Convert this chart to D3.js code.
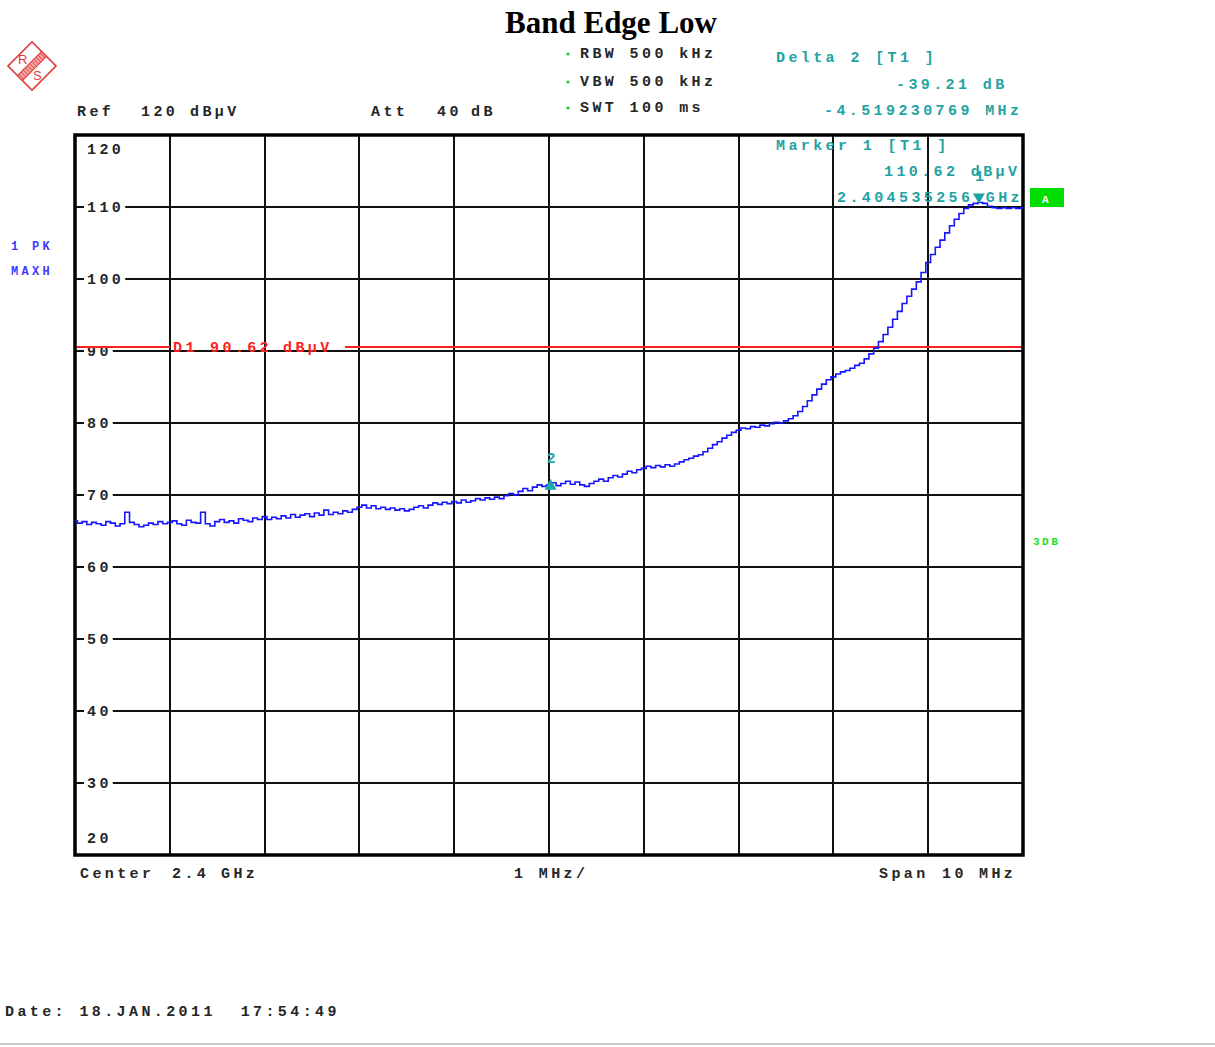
<!DOCTYPE html>
<html>
<head>
<meta charset="utf-8">
<script src="https://cdn.jsdelivr.net/npm/d3@7"></script>
<style>
  body { margin: 0; background: #fff; }
  text { white-space: pre; }
  .mono { font-family: "Liberation Mono", "DejaVu Sans Mono", monospace; font-weight: bold; font-size: 15px; letter-spacing: 3.4px; }
</style>
</head>
<body>
<div id="chart"></div>
<script>
// sweep settings
var centerFreq = 2.4e9, spanFreq = 10e6;
var refLevel = 120, bottomLevel = 20;
var yTicks = [110, 100, 90, 80, 70, 60, 50, 40, 30];
var displayLine = 90.62;

// trace (1 PK MAXH), dBuV, evenly spaced sweep points across the span
var trace = [
  66.4, 66.1, 66.3, 65.9, 66.2, 66.0, 65.8, 66.3, 66.1, 65.7, 66.0, 67.6, 66.2, 65.9, 65.6, 65.8, 66.1, 65.9, 66.3, 66.0,
  66.2, 66.4, 66.0, 65.8, 66.5, 66.2, 66.1, 67.6, 66.0, 65.7, 66.3, 66.6, 66.2, 66.4, 66.1, 66.7, 66.5, 66.3, 66.8, 66.6,
  67.0, 66.6, 66.9, 66.7, 67.1, 66.8, 67.3, 66.9, 67.2, 67.4, 67.0, 67.5, 67.2, 67.9, 67.3, 67.6, 67.4, 67.8, 67.6, 68.0,
  68.3, 68.6, 68.2, 68.5, 68.1, 68.3, 68.0, 68.2, 67.9, 68.1, 67.8, 68.0, 68.3, 68.5, 68.2, 68.6, 68.9, 68.7, 69.0, 68.8,
  69.1, 68.9, 69.3, 69.0, 69.2, 69.5, 69.3, 69.6, 69.4, 69.7, 69.5, 69.9, 70.2, 70.0, 70.5, 70.9, 70.6, 71.1, 71.4, 71.2,
  71.4, 71.7, 71.3, 71.6, 71.9, 71.5, 71.8, 71.4, 71.2, 71.6, 71.9, 72.2, 71.9, 72.4, 72.7, 72.5, 72.9, 73.3, 73.1, 73.5,
  73.7, 74.0, 73.8, 74.1, 73.9, 74.2, 74.0, 74.3, 74.6, 74.9, 75.1, 75.4, 75.6, 76.0, 76.5, 77.0, 77.4, 77.9, 78.3, 78.7,
  79.0, 79.3, 79.2, 79.5, 79.4, 79.7, 79.6, 79.9, 80.1, 80.0, 80.3, 80.6, 81.0, 81.6, 82.3, 83.1, 83.9, 84.7, 85.4, 86.0,
  86.4, 86.8, 87.1, 87.3, 87.6, 88.0, 88.3, 88.9, 89.6, 90.4, 91.3, 92.3, 93.3, 94.4, 95.5, 96.6, 97.6, 98.6, 99.6, 100.9,
  102.3, 103.4, 104.4, 105.4, 106.4, 107.4, 108.3, 109.1, 109.8, 110.3, 110.5, 110.62, 110.5, 110.1, 109.9, 109.8, 109.9, 109.8, 109.9, 109.8,
  109.9
];

// markers
var markers = [
  {name: "1", freq: 2.404535256e9, level: 110.62, dir: "down"},
  {name: "2", freq: 2.400016026e9, level: 71.41, dir: "up"}
];

var W = 1215, H = 1047;
var svg = d3.select("#chart").append("svg")
  .attr("width", W).attr("height", H);

var x = d3.scaleLinear()
  .domain([centerFreq - spanFreq / 2, centerFreq + spanFreq / 2])
  .range([75, 1023]);
var y = d3.scaleLinear()
  .domain([bottomLevel, refLevel])
  .range([855, 135]);

var dark = "#262626", teal = "#1fa3a3", blue = "#1515ff";

function txt(s, px, py, color, cls) {
  return svg.append("text").attr("class", cls || "mono")
    .attr("x", px).attr("y", py).attr("fill", color || dark).text(s);
}

// title
svg.append("text").attr("x", 611).attr("y", 33)
  .attr("text-anchor", "middle")
  .style("font-family", "'Liberation Serif', 'Times New Roman', serif")
  .style("font-weight", "bold").style("font-size", "31px")
  .text("Band Edge Low");

// R&S logo
var logo = svg.append("g").attr("transform", "translate(32,66) rotate(45)");
logo.append("rect").attr("x", -17).attr("y", -17).attr("width", 34).attr("height", 34)
  .attr("fill", "none").attr("stroke", "#e23a3a").attr("stroke-width", 1.6);
logo.append("rect").attr("x", -3.5).attr("y", -17).attr("width", 7).attr("height", 34)
  .attr("fill", "#f2a0a0").attr("stroke", "#e23a3a").attr("stroke-width", 1);
d3.range(-15, 17, 3).forEach(function(v) {
  logo.append("line").attr("x1", -3.5).attr("x2", 3.5).attr("y1", v).attr("y2", v)
    .attr("stroke", "#e23a3a").attr("stroke-width", 0.8);
});
svg.append("text").attr("x", 18).attr("y", 64).attr("fill", "#e23a3a")
  .style("font-family", "'Liberation Sans', sans-serif").style("font-size", "13px").text("R");
svg.append("text").attr("x", 33).attr("y", 80).attr("fill", "#e23a3a")
  .style("font-family", "'Liberation Sans', sans-serif").style("font-size", "13px").text("S");

// header settings
txt("Ref", 77, 116); txt("120", 141, 116); txt("dBµV", 190, 116);
txt("Att", 371, 116); txt("40", 437, 116); txt("dB", 471, 116);
[["RBW 500 kHz", 58], ["VBW 500 kHz", 86], ["SWT 100 ms", 112]].forEach(function(r) {
  svg.append("circle").attr("cx", 568).attr("cy", r[1] - 4).attr("r", 1.6).attr("fill", "#22cc22");
  txt(r[0], 580, r[1]);
});
txt("Delta 2 [T1 ]", 776, 62, teal);
txt("-39.21 dB", 896, 89, teal);
txt("-4.519230769 MHz", 824, 115, teal);

// side labels
txt("1 PK", 11, 250, "#3b3bff").style("font-size", "12px").style("letter-spacing", "3.3px");
txt("MAXH", 11, 275, "#3b3bff").style("font-size", "12px").style("letter-spacing", "3.3px");
svg.append("rect").attr("x", 1030).attr("y", 188).attr("width", 34).attr("height", 19).attr("fill", "#00dd00");
txt("A", 1042, 203, "#fff").style("font-size", "11px").style("letter-spacing", "0px");
txt("3DB", 1033, 545, "#22dd22").style("font-size", "11px").style("letter-spacing", "2.5px");

// grid
var grid = svg.append("g");
d3.range(1, 10).forEach(function(k) {
  var gx = Math.round(x(centerFreq - spanFreq / 2 + k * 1e6));
  grid.append("line").attr("x1", gx).attr("x2", gx).attr("y1", y(refLevel)).attr("y2", y(bottomLevel))
    .attr("stroke", "#111").attr("stroke-width", 2);
});
yTicks.forEach(function(t) {
  var gy = Math.round(y(t));
  grid.append("line").attr("x1", x.range()[0]).attr("x2", x.range()[1]).attr("y1", gy).attr("y2", gy)
    .attr("stroke", "#111").attr("stroke-width", 2);
});

// y labels, sitting on the grid lines with a white gap
yTicks.forEach(function(t) {
  var gy = Math.round(y(t));
  var lab = String(t);
  var w = lab.length * 12.4 - 2;
  svg.append("rect").attr("x", 84).attr("y", gy - 3).attr("width", w + 6).attr("height", 6).attr("fill", "#fff");
  txt(lab, 87, gy + 5);
});
txt(String(refLevel), 87, 154);
txt(String(bottomLevel), 87, 843);

// display line D1
var dy = Math.round(y(displayLine));
svg.append("line").attr("x1", x.range()[0]).attr("x2", 170).attr("y1", dy).attr("y2", dy)
  .attr("stroke", "#ff2020").attr("stroke-width", 2);
svg.append("line").attr("x1", 345).attr("x2", x.range()[1]).attr("y1", dy).attr("y2", dy)
  .attr("stroke", "#ff2020").attr("stroke-width", 2);
txt("D1", 173, dy + 5, "#ff2020"); txt(displayLine.toFixed(2), 210, dy + 5, "#ff2020"); txt("dBµV", 283, dy + 5, "#ff2020");

// frame
svg.append("rect").attr("x", x.range()[0]).attr("y", y(refLevel))
  .attr("width", x.range()[1] - x.range()[0]).attr("height", y(bottomLevel) - y(refLevel))
  .attr("fill", "none").attr("stroke", "#000").attr("stroke-width", 3.5);

// trace
var f0 = centerFreq - spanFreq / 2, step = spanFreq / (trace.length - 1);
var line = d3.line()
  .x(function(d, i) { return x(f0 + i * step); })
  .y(function(d) { return y(d); })
  .curve(d3.curveStep);
svg.append("path").datum(trace).attr("d", line)
  .attr("fill", "none").attr("stroke", blue).attr("stroke-width", 1.6);

// markers
markers.forEach(function(m) {
  var mx = x(m.freq), my = y(m.level);
  var tri = m.dir === "up"
    ? [[mx, my - 6], [mx - 6, my + 5], [mx + 6, my + 5]]
    : [[mx - 6, my - 9], [mx + 6, my - 9], [mx, my + 1]];
  svg.append("path").attr("d", d3.line()(tri) + "Z").attr("fill", teal);
  txt(m.name, mx - 4, my - 22, teal).style("letter-spacing", "0px");
});

// marker 1 readout
txt("Marker 1 [T1 ]", 776, 150, teal);
txt("110.62 dBµV", 884, 176, teal);
txt("2.404535256 GHz", 837, 202, teal);

// footer
txt("Center", 80, 878); txt("2.4", 172, 878); txt("GHz", 221, 878);
txt("1 MHz/", 514, 878);
txt("Span", 879, 878); txt("10", 942, 878); txt("MHz", 979, 878);
txt("Date: 18.JAN.2011  17:54:49", 5, 1016);
svg.append("line").attr("x1", 0).attr("x2", W).attr("y1", 1044).attr("y2", 1044)
  .attr("stroke", "#c8c8c8").attr("stroke-width", 2);
</script>
</body>
</html>
